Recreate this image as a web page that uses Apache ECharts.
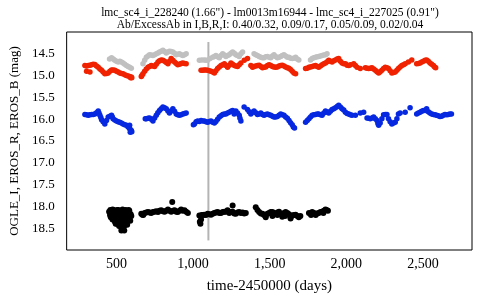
<!DOCTYPE html>
<html>
<head>
<meta charset="utf-8">
<script src="https://cdn.jsdelivr.net/npm/echarts@6/dist/echarts.min.js"></script>
<style>html,body{margin:0;padding:0;background:#fff}#c{width:480px;height:300px}</style>
</head>
<body>
<div id="c"></div>
<script>
const titleLine1 = 'lmc_sc4_i_228240 (1.66") - lm0013m16944 - lmc_sc4_i_227025 (0.91")';
const titleLine2 = 'Ab/ExcessAb in I,B,R,I: 0.40/0.32, 0.09/0.17, 0.05/0.09, 0.02/0.04';
const xAxisName = 'time-2450000 (days)';
const yAxisName = 'OGLE_I, EROS_R, EROS_B (mag)';
const xTicks = [500, 1000, 1500, 2000, 2500];
const yTicks = [14.5, 15.0, 15.5, 16.0, 16.5, 17.0, 17.5, 18.0, 18.5];
const markerLine = [[1100, 14.23], [1100, 18.78]];

const grayData = [
[455,14.62],[468,14.59],[479,14.62],[489,14.65],[500,14.67],[511,14.69],[522,14.67],[532,14.69],[543,14.71],[554,14.74],[565,14.77],[576,14.79],[586,14.81],[597,14.83],
[673,14.73],[684,14.65],[695,14.58],[706,14.55],[716,14.52],[727,14.53],[738,14.54],[749,14.52],[760,14.5],[771,14.48],[781,14.46],[792,14.44],[803,14.42],[814,14.45],[825,14.48],[836,14.46],[846,14.44],[857,14.45],[868,14.46],[879,14.49],[890,14.52],[900,14.51],[911,14.5],[922,14.52],[933,14.54],[944,14.52],[955,14.5],
[1041,14.65],[1057,14.64],[1073,14.64],[1084,14.65],[1095,14.65],[1111,14.61],[1128,14.58],[1139,14.56],[1149,14.54],[1160,14.57],[1171,14.59],[1182,14.54],[1193,14.5],[1204,14.53],[1214,14.56],[1225,14.54],[1236,14.52],[1247,14.49],[1258,14.46],[1269,14.49],[1279,14.52],[1290,14.54],[1301,14.56],[1312,14.5],[1323,14.46],
[1398,14.5],[1409,14.52],[1420,14.54],[1431,14.56],[1442,14.58],[1453,14.59],[1463,14.59],[1474,14.57],[1485,14.56],[1496,14.58],[1507,14.59],[1518,14.55],[1528,14.52],[1539,14.56],[1550,14.59],[1561,14.58],[1572,14.56],[1582,14.54],[1593,14.52],[1604,14.55],[1615,14.58],[1626,14.58],[1636,14.6],[1647,14.61],[1658,14.6],[1669,14.58],[1680,14.62],[1690,14.64],
[1766,14.64],[1777,14.61],[1788,14.59],[1799,14.58],[1810,14.57],[1820,14.56],[1831,14.55],[1842,14.54],[1853,14.53],[1864,14.52],[1874,14.5]
];

const redData = [
[294,14.77],[305,14.78],[316,14.77],[327,14.76],[338,14.75],[348,14.74],[359,14.745],[370,14.78],[381,14.81],[392,14.85],[403,14.88],[413,14.92],[424,14.96],[435,14.95],[446,14.94],[457,14.9],[468,14.87],[478,14.87],[489,14.88],[500,14.9],[511,14.92],[522,14.94],[532,14.95],[543,14.96],[554,14.98],[565,15.0],[576,15.01],[586,15.02],[592,15.05],[597,15.03],[600,15.05],[305,14.9],[327,14.92],
[662,15.02],[666,15.0],[673,14.96],[684,14.9],[695,14.85],[706,14.81],[716,14.79],[727,14.77],[738,14.78],[749,14.79],[760,14.74],[771,14.69],[781,14.66],[792,14.64],[803,14.65],[814,14.67],[825,14.7],[836,14.73],[846,14.67],[857,14.61],[868,14.65],[879,14.69],[890,14.72],[900,14.75],[911,14.74],[922,14.72],[933,14.71],[944,14.72],[955,14.73],
[1052,14.88],[1063,14.88],[1073,14.87],[1084,14.87],[1095,14.88],[1106,14.89],[1117,14.9],[1128,14.92],[1139,14.94],[1149,14.89],[1160,14.84],[1171,14.8],[1182,14.77],[1193,14.75],[1204,14.73],[1214,14.77],[1225,14.81],[1236,14.76],[1247,14.71],[1258,14.74],[1269,14.77],[1279,14.78],[1290,14.79],[1301,14.75],[1312,14.71],[1334,14.65],[1355,14.61],[1377,14.77],[1388,14.81],[1398,14.79],[1409,14.78],[1420,14.77],[1431,14.76],[1442,14.79],[1453,14.82],[1463,14.81],[1474,14.8],[1485,14.77],[1496,14.75],[1507,14.77],[1518,14.79],[1528,14.8],[1539,14.81],[1550,14.8],[1561,14.78],[1572,14.77],[1582,14.76],[1593,14.78],[1604,14.8],[1615,14.82],[1625,14.83],[1636,14.86],[1647,14.9],[1658,14.94],[1669,14.96],
[1734,14.84],[1745,14.83],[1756,14.81],[1766,14.8],[1777,14.79],[1788,14.78],[1799,14.77],[1810,14.79],[1820,14.81],[1831,14.78],[1842,14.75],[1853,14.73],[1864,14.71],[1875,14.68],[1885,14.65],[1896,14.67],[1907,14.69],[1918,14.66],[1929,14.64],[1940,14.62],[1950,14.61],[1961,14.67],[1972,14.71],[1983,14.73],[1994,14.73],[2005,14.76],[2016,14.77],[2027,14.75],[2048,14.73],[2059,14.77],[2070,14.81],[2091,14.84],[2124,14.82],[2135,14.83],[2146,14.84],[2156,14.83],[2167,14.82],[2178,14.85],[2189,14.88],[2200,14.91],[2211,14.94],[2221,14.91],[2232,14.88],[2243,14.84],[2254,14.81],[2265,14.82],[2275,14.84],[2286,14.89],[2297,14.94],[2308,14.93],[2319,14.92],[2330,14.88],[2340,14.84],[2351,14.8],[2362,14.77],[2373,14.75],[2384,14.73],[2405,14.69],[2427,14.64],[2459,14.73],[2470,14.72],[2481,14.71],[2492,14.69],[2503,14.67],[2514,14.65],[2524,14.64],[2535,14.67],[2546,14.71],[2557,14.74],[2568,14.77],[2576,14.8],[2583,14.82]
];

const blueData = [
[294,15.89],[305,15.9],[316,15.91],[327,15.9],[338,15.89],[348,15.89],[359,15.88],[370,15.85],[381,15.81],[386,15.86],[392,15.91],[398,15.96],[403,16.01],[413,16.06],[424,16.11],[435,16.03],[446,15.95],[457,15.93],[468,15.91],[473,15.95],[478,15.99],[489,16.02],[500,16.04],[511,16.06],[521,16.07],[532,16.09],[543,16.11],[554,16.13],[565,16.14],[576,16.18],[586,16.22],[592,16.24],[597,16.26],[600,16.29],[586,16.14],[590,16.3],
[688,15.99],[695,15.99],[706,15.98],[716,15.97],[727,16.0],[738,16.04],[749,15.97],[760,15.91],[770,15.85],[781,15.8],[792,15.76],[803,15.72],[814,15.74],[825,15.76],[836,15.81],[846,15.86],[857,15.81],[868,15.76],[879,15.82],[890,15.88],[900,15.9],[911,15.91],[922,15.9],[933,15.88],[944,15.87],[955,15.86],
[1002,16.13],[1009,16.11],[1020,16.06],[1030,16.04],[1041,16.05],[1052,16.03],[1063,16.04],[1074,16.04],[1084,16.06],[1095,16.07],[1106,16.05],[1117,16.04],[1128,16.07],[1139,16.09],[1149,16.05],[1160,16.0],[1171,15.95],[1182,15.92],[1193,15.89],[1204,15.88],[1214,15.88],[1225,15.86],[1236,15.84],[1247,15.82],[1258,15.8],[1268,15.88],[1279,15.81],[1290,15.86],[1301,15.91],[1306,15.98],[1312,16.04],[1333,15.72],[1355,15.78],[1366,15.83],[1377,15.88],[1388,15.84],[1398,15.81],[1409,15.85],[1420,15.89],[1431,15.88],[1442,15.86],[1453,15.89],[1463,15.91],[1474,15.89],[1485,15.88],[1496,15.9],[1507,15.91],[1518,15.93],[1528,15.95],[1539,15.95],[1550,15.94],[1561,15.91],[1572,15.88],[1582,15.9],[1593,15.91],[1604,15.95],[1615,15.98],[1626,16.03],[1636,16.08],[1647,16.13],[1654,16.18],[1662,16.2],
[1734,16.07],[1745,16.03],[1756,15.99],[1766,15.95],[1777,15.91],[1788,15.9],[1799,15.89],[1810,15.88],[1820,15.88],[1831,15.9],[1842,15.91],[1853,15.86],[1864,15.81],[1875,15.84],[1885,15.86],[1896,15.82],[1907,15.78],[1918,15.76],[1929,15.74],[1940,15.71],[1950,15.68],[1961,15.72],[1972,15.76],[1983,15.79],[1994,15.84],[2005,15.87],[2016,15.88],[2026,15.9],[2037,15.91],[2059,15.91],[2091,15.86],[2113,15.84],[2135,15.97],[2146,15.98],[2156,15.99],[2167,15.97],[2178,15.95],[2189,15.99],[2200,16.03],[2206,16.1],[2211,16.14],[2221,16.09],[2232,15.99],[2243,15.9],[2254,15.89],[2265,15.89],[2275,15.99],[2286,16.06],[2297,16.11],[2308,16.09],[2319,16.07],[2330,15.99],[2340,15.88],[2351,15.86],[2384,15.84],[2416,15.74],[2459,15.88],[2470,15.86],[2481,15.84],[2492,15.82],[2503,15.8],[2514,15.8],[2524,15.76],[2535,15.83],[2546,15.86],[2557,15.88],[2568,15.89],[2578,15.9],[2589,15.91],[2600,15.92],[2611,15.94],[2622,15.93],[2633,15.91],[2644,15.89],[2655,15.9],[2665,15.89],[2676,15.88],[2686,15.88]
];

const blackData = [
[452,18.12],[458,18.2],[463,18.25],[466,18.15],[470,18.09],[474,18.3],[478,18.18],[481,18.08],[485,18.22],[488,18.12],[490,18.35],[494,18.28],[497,18.1],[500,18.2],[503,18.4],[506,18.3],[509,18.15],[512,18.08],[514,18.25],[517,18.45],[520,18.35],[522,18.18],[525,18.1],[528,18.28],[531,18.42],[534,18.5],[537,18.35],[539,18.22],[542,18.12],[545,18.3],[548,18.4],[551,18.55],[553,18.25],[556,18.15],[559,18.3],[562,18.2],[565,18.1],[568,18.35],[571,18.25],[574,18.15],[577,18.3],[580,18.2],[584,18.1],[587,18.25],[590,18.33],[593,18.18],[597,18.22],[460,18.08],[475,18.07],[505,18.08],[540,18.07],[560,18.08],[580,18.08],[530,18.15],[495,18.4],[515,18.35],[550,18.45],[545,18.48],[570,18.42],[532,18.55],
[662,18.17],[669,18.19],[675,18.2],[684,18.15],[695,18.14],[706,18.13],[716,18.14],[727,18.15],[738,18.13],[749,18.12],[760,18.11],[771,18.13],[781,18.1],[792,18.09],[803,18.11],[814,18.12],[825,18.1],[836,18.07],[846,18.1],[857,18.12],[864,17.9],[870,18.1],[879,18.09],[890,18.12],[900,18.13],[911,18.1],[922,18.07],[933,18.1],[944,18.09],[955,18.12],[966,18.15],
[1041,18.21],[1044,18.35],[1048,18.4],[1052,18.3],[1057,18.2],[1063,18.2],[1073,18.19],[1084,18.2],[1095,18.17],[1106,18.18],[1117,18.19],[1128,18.17],[1139,18.15],[1149,18.14],[1160,18.13],[1171,18.15],[1182,18.15],[1193,18.13],[1204,18.12],[1214,18.12],[1225,18.09],[1236,18.15],[1247,18.13],[1258,17.98],[1258,18.12],[1269,18.16],[1279,18.17],[1290,18.14],[1301,18.13],[1312,18.15],[1323,18.14],[1334,18.16],[1344,18.15],
[1409,18.02],[1420,18.08],[1431,18.13],[1442,18.16],[1453,18.17],[1463,18.2],[1474,18.21],[1485,18.17],[1496,18.15],[1507,18.13],[1518,18.13],[1528,18.17],[1539,18.17],[1550,18.14],[1561,18.12],[1572,18.18],[1582,18.19],[1593,18.15],[1604,18.13],[1615,18.15],[1626,18.18],[1636,18.25],[1647,18.21],[1658,18.2],[1669,18.19],[1680,18.22],[1690,18.25],[1700,18.22],[1474,18.25],[1518,18.22],[1550,18.2],[1582,18.24],[1636,18.28],[1600,18.22],
[1756,18.15],[1766,18.17],[1777,18.13],[1788,18.15],[1799,18.17],[1810,18.16],[1820,18.15],[1831,18.13],[1842,18.12],[1853,18.1],[1864,18.07],[1874,18.09],[1880,18.1],[1770,18.2],[1800,18.2],[1850,18.15]
];

const serif = 'Liberation Serif';
const chart = echarts.init(document.getElementById('c'), null, {renderer: 'canvas'});
const dot = (name, data, color, size) => ({
  name, type: 'scatter', data, symbol: 'circle', symbolSize: size,
  itemStyle: {color, opacity: 1}, emphasis: {disabled: true}, z: 3
});
chart.setOption({
  animation: false,
  backgroundColor: '#fff',
  title: [
    {text: titleLine1, left: 265, top: 2, textAlign: 'center',
     textStyle: {fontFamily: serif, fontSize: 11.5, fontWeight: 'normal', color: '#000'}},
    {text: titleLine2, left: 265, top: 14, textAlign: 'center',
     textStyle: {fontFamily: serif, fontSize: 11.5, fontWeight: 'normal', color: '#000'}}
  ],
  grid: {left: 65, right: 8, top: 32, bottom: 50, show: true, borderColor: '#000', borderWidth: 1},
  xAxis: {
    type: 'value', min: 175, max: 2820,
    name: xAxisName, nameLocation: 'middle', nameGap: 29,
    nameTextStyle: {fontFamily: serif, fontSize: 15, color: '#000'},
    axisLine: {show: false}, axisTick: {show: false}, splitLine: {show: false},
    axisLabel: {customValues: xTicks, formatter: v => v.toLocaleString('en-US'),
      fontFamily: serif, fontSize: 14, color: '#000', margin: 7}
  },
  yAxis: {
    type: 'value', inverse: true, min: 14, max: 19,
    name: yAxisName, nameLocation: 'middle', nameGap: 38, nameRotate: 90,
    nameTextStyle: {fontFamily: serif, fontSize: 13, color: '#000'},
    axisLine: {show: false}, axisTick: {show: false}, splitLine: {show: false},
    axisLabel: {customValues: yTicks, formatter: v => v.toFixed(1),
      fontFamily: serif, fontSize: 13, color: '#000', margin: 12}
  },
  series: [
    {name: 'marker', type: 'line', data: markerLine, symbol: 'none',
     lineStyle: {color: '#b4b4b4', width: 2}, z: 1, silent: true},
    dot('OGLE_I (neighbour)', grayData, '#c0c0c0', 5.5),
    dot('EROS_R', redData, '#f02200', 5.5),
    dot('EROS_B', blueData, '#0628e0', 5.5),
    dot('OGLE_I', blackData, '#000000', 6)
  ]
});
</script>
</body>
</html>
